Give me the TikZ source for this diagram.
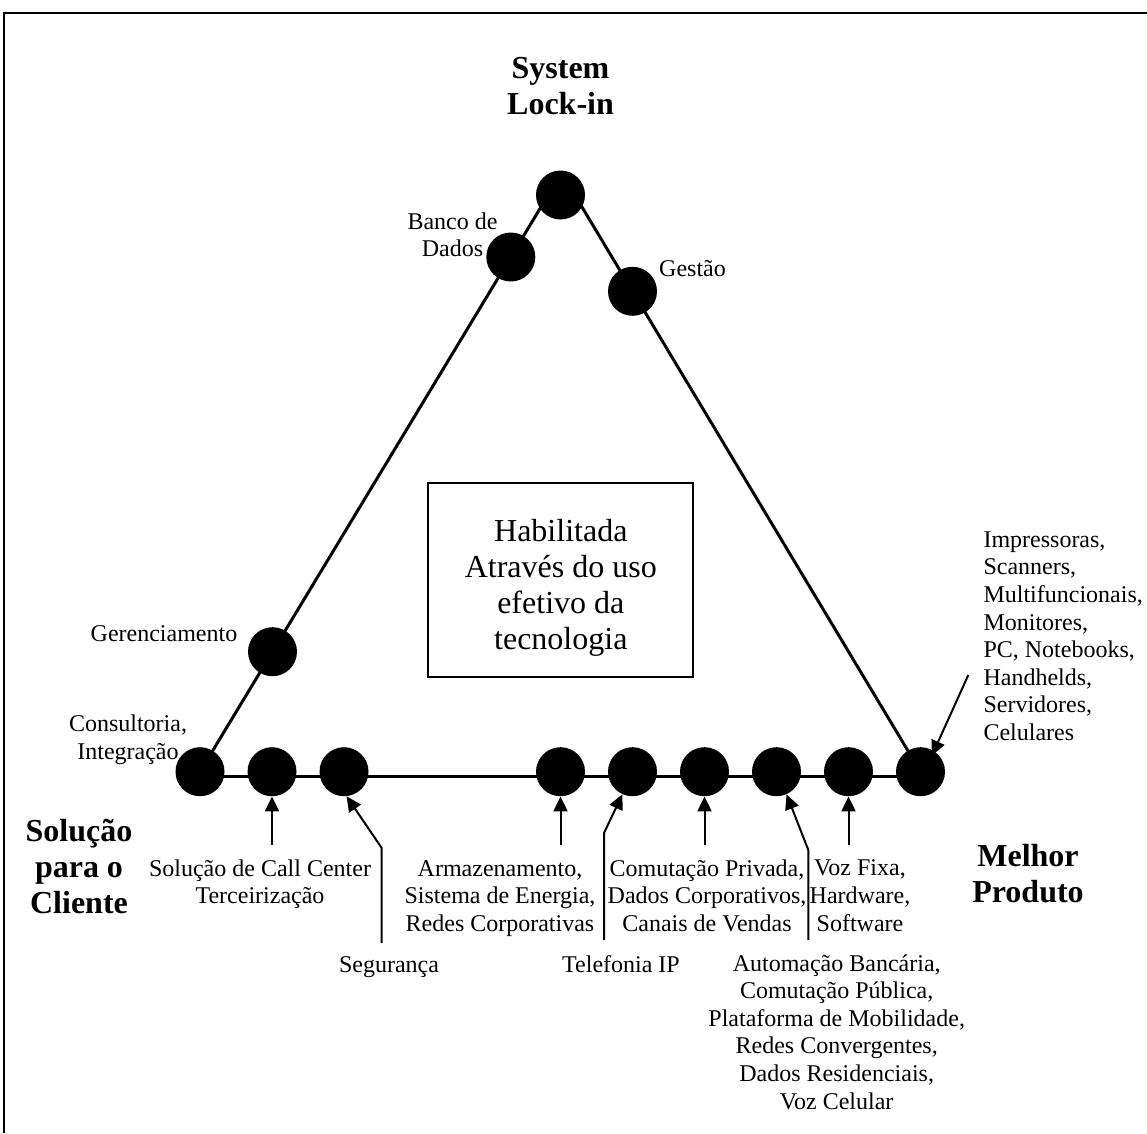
\documentclass[tikz,border=0pt]{standalone}
\usepackage{fontspec}
\setmainfont{Liberation Serif}
\usetikzlibrary{arrows.meta,calc}
\pgfdeclarelayer{bg}
\pgfsetlayers{bg,main}
\begin{document}
\begin{tikzpicture}[x=1pt,y=-1pt,
  dot/.style={circle,fill=black,inner sep=0pt,minimum size=49pt},
  tri/.style={line width=3pt},
  arr/.style={line width=2pt,-{Triangle[width=14pt,length=15pt]}},
  lbl/.style={font=\fontsize{24}{27.6}\selectfont,inner sep=0pt,align=center,anchor=base},
  ttl/.style={font=\fontsize{32}{36}\selectfont\bfseries,inner sep=0pt,align=center,anchor=base},
  outframe/.style={line width=2pt}]
\useasboundingbox (0,0) rectangle (1147,1133);
\draw[outframe] (4,1133) -- (4,13) -- (1147,13);

% circles
\node[dot] (apex) at (560.5,195) {};
\node[dot] (banco) at (510.8,257) {};
\node[dot] (gestao) at (632.5,291.3) {};
\node[dot] (geren) at (272.5,651.7) {};
\node[dot] (b1) at (200,771.7) {};
\node[dot] (b2) at (272,771.7) {};
\node[dot] (b3) at (344,771.7) {};
\node[dot] (b4) at (560.5,771.7) {};
\node[dot] (b5) at (632.5,771.7) {};
\node[dot] (b6) at (704.5,771.7) {};
\node[dot] (b7) at (776.5,771.7) {};
\node[dot] (b8) at (848.5,771.7) {};
\node[dot] (b9) at (920.5,771.7) {};

\begin{pgfonlayer}{bg}
\draw[tri] (b1.center) -- ($(b1.center)!1.1!(banco.center)$);
\draw[tri] (b9.center) -- ($(b9.center)!1.18!(gestao.center)$);
\draw[tri] ([yshift=-5pt]b1.center) -- ([yshift=-5pt]b9.center);
\end{pgfonlayer}

% central box (anchor=base of a multi-line node is the last line's baseline)
\node[draw,line width=2pt,minimum width=265pt,minimum height=194pt,inner sep=0pt] (box) at (560.8,580) {};
\node[font=\fontsize{32}{36}\selectfont,inner sep=0pt,align=center,anchor=base] (boxtxt) at (560.8,649) {Habilitada\\Através do uso\\efetivo da\\tecnologia};

% titles
\node[ttl] (sys) at (560.5,114) {System\\Lock-in};
\node[ttl] (cliente) at (79,913) {Solução\\para o\\Cliente};
\node[ttl] (melhor) at (1028,902) {Melhor\\Produto};

% labels
\node[lbl] (lbanco) at (452.5,256.7) {Banco de\\Dados};
\node[lbl,anchor=base west] (lgestao) at (659,276) {Gestão};
\node[lbl] (lgeren) at (164,641.7) {Gerenciamento};
\node[lbl] (lconsult) at (128,759.3) {Consultoria,\\Integração};
\node[lbl] (lcall) at (260,903.6) {Solução de Call Center\\Terceirização};
\node[lbl] (lseg) at (389,972) {Segurança};
\node[lbl] (larm) at (500,931.2) {Armazenamento,\\Sistema de Energia,\\Redes Corporativas};
\node[lbl] (ltel) at (621,972) {Telefonia IP};
\node[lbl] (lcom) at (707,931.2) {Comutação Privada,\\Dados Corporativos,\\Canais de Vendas};
\node[lbl] (lvoz) at (860,931) {Voz Fixa,\\Hardware,\\Software};
\node[lbl] (laut) at (836.7,1109) {Automação Bancária,\\Comutação Pública,\\Plataforma de Mobilidade,\\Redes Convergentes,\\Dados Residenciais,\\Voz Celular};
\node[lbl,align=left,anchor=base west] (limp) at (983.3,740.5) {Impressoras,\\Scanners,\\Multifuncionais,\\Monitores,\\PC, Notebooks,\\Handhelds,\\Servidores,\\Celulares};

% arrow start points
\coordinate (s2) at (272,845);
\coordinate (s3) at (381.7,943);
\coordinate (k3) at (381.7,848);
\coordinate (s4) at (560.5,845);
\coordinate (s5) at (604,940);
\coordinate (k5) at (604,833);
\coordinate (s6) at (704.5,845);
\coordinate (s7) at (808.3,940);
\coordinate (k7) at (808.3,850);
\coordinate (s8) at (848.5,845);
\coordinate (s9) at (968.3,675);

\draw[arr] (s2) -- (b2.south);
\draw[arr] (s3) -- (k3) -- (b3.-84);
\draw[arr] (s4) -- (b4.south);
\draw[arr] (s5) -- (k5) -- (b5.-114);
\draw[arr] (s6) -- (b6.south);
\draw[arr] (s7) -- (k7) -- (b7.-66);
\draw[arr] (s8) -- (b8.south);
\draw[arr,shorten >=-5pt] (s9) -- (b9.57);
\end{tikzpicture}
\end{document}
